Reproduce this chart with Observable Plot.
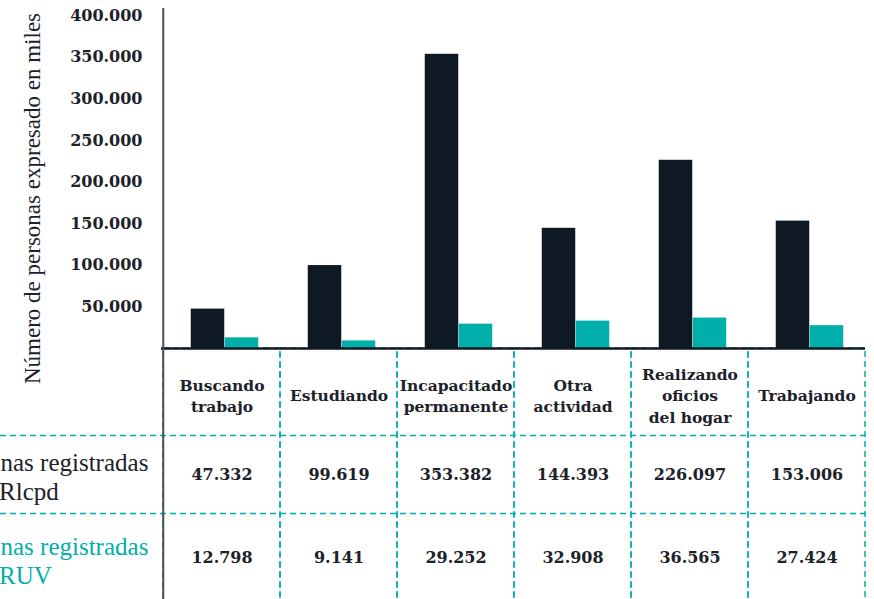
<!DOCTYPE html>
<html><head><meta charset="utf-8">
<script src="https://cdn.jsdelivr.net/npm/d3@7"></script>
<script src="https://cdn.jsdelivr.net/npm/@observablehq/plot@0.6"></script>
<style>
html,body{margin:0;padding:0;background:#fff;overflow:hidden;}
#chart svg{display:block;overflow:visible;}
g[aria-label="book"] text{font-family:"Liberation Serif","Times New Roman",serif;}
</style></head>
<body><div id="chart"></div>
<script>
const categories = ["Buscando trabajo","Estudiando","Incapacitado permanente","Otra actividad","Realizando oficios del hogar","Trabajando"];
const categoryLabels = ["Buscando\ntrabajo","Estudiando","Incapacitado\npermanente","Otra\nactividad","Realizando\noficios\ndel hogar","Trabajando"];
const rlcpd = [47332, 99619, 353382, 144393, 226097, 153006];
const ruv = [12798, 9141, 29252, 32908, 36565, 27424];
const seriesNames = ["Personas registradas\nen el Rlcpd", "Personas registradas\nen el RUV"];
const yTicks = [50000, 100000, 150000, 200000, 250000, 300000, 350000, 400000];
const yLabel = "Número de personas expresado en miles";

const DARK = "#0f1923", TEAL = "#00afaa", TEXT = "#1c2229";
const W = 874, H = 599, ML = 161, MR = 8, MT = 15, MB = 251;
const bw = (W - ML - MR) / categories.length;
const fmt = d3.formatLocale({decimal: ",", thousands: ".", grouping: [3], currency: ["", ""]}).format(",d");
const slab = "DejaVu Serif";
const book = "Liberation Serif";

const rowsA = categories.map((c, i) => ({cat: c, value: rlcpd[i]}));
const rowsB = categories.map((c, i) => ({cat: c, value: ruv[i]}));

// the source crops the row labels at the page's left edge just after "Perso"
const ctx = document.createElement("canvas").getContext("2d");
ctx.font = "25px 'Liberation Serif'";
const rowDx = -ctx.measureText("Perso").width - ML;

const dash = "6,4";
const chart = Plot.plot({
  width: W, height: H,
  marginLeft: ML, marginRight: MR, marginTop: MT, marginBottom: MB,
  style: {fontFamily: slab, color: TEXT, background: "#fff"},
  x: {type: "band", domain: categories, padding: 0, axis: null},
  y: {domain: [0, 400000], axis: null},
  marks: [
    Plot.cell(categories, {x: d => d, fill: "none", stroke: TEAL, strokeWidth: 1.5, strokeDasharray: dash, insetTop: H - MB - MT, insetBottom: -MB - 2}),
    Plot.ruleY([0], {dy: 87, insetLeft: -ML, stroke: TEAL, strokeWidth: 1.5, strokeDasharray: dash}),
    Plot.ruleY([0], {dy: 165, insetLeft: -ML, stroke: TEAL, strokeWidth: 1.5, strokeDasharray: dash}),
    Plot.barY(rowsA, {x: "cat", y: "value", fill: DARK, insetLeft: bw / 2 + 3 - 34, insetRight: bw / 2 - 3}),
    Plot.barY(rowsB, {x: "cat", y: "value", fill: TEAL, insetLeft: bw / 2 + 3, insetRight: bw / 2 - 3 - 34}),
    Plot.ruleY([0], {stroke: DARK, strokeWidth: 2.5, insetRight: 1}),
    Plot.ruleX([categories[0]], {dx: -bw / 2, insetTop: -7, insetBottom: -MB, stroke: "#4a4f55", strokeWidth: 2}),
    Plot.axisY({ticks: yTicks, tickSize: 0, tickPadding: 19, tickFormat: fmt, label: null, fontSize: 16, fontWeight: "bold", fontFamily: slab, fill: TEXT}),
    Plot.text(categories, {x: d => d, text: (d, i) => categoryLabels[i], frameAnchor: "bottom", dy: 46, lineAnchor: "middle", lineHeight: 1.4, fontSize: 15.5, fontWeight: "bold", fontFamily: slab, fill: TEXT}),
    Plot.text(rowsA, {x: "cat", text: d => fmt(d.value), frameAnchor: "bottom", dy: 126, lineAnchor: "middle", fontSize: 16, fontWeight: "bold", fontFamily: slab, fill: TEXT}),
    Plot.text(rowsB, {x: "cat", text: d => fmt(d.value), frameAnchor: "bottom", dy: 209, lineAnchor: "middle", fontSize: 16, fontWeight: "bold", fontFamily: slab, fill: TEXT}),
    Plot.text([seriesNames[0]], {ariaLabel: "book", frameAnchor: "bottom-left", text: d => d, textAnchor: "start", lineAnchor: "middle", lineHeight: 1.15, dx: rowDx, dy: 128, fontSize: 25, fontFamily: book, fill: TEXT}),
    Plot.text([seriesNames[1]], {ariaLabel: "book", frameAnchor: "bottom-left", text: d => d, textAnchor: "start", lineAnchor: "middle", lineHeight: 1.15, dx: rowDx, dy: 212, fontSize: 25, fontFamily: book, fill: TEAL}),
    Plot.text([yLabel], {ariaLabel: "book", frameAnchor: "left", text: d => d, textAnchor: "middle", rotate: -90, dx: 32 - ML, dy: 16.5, lineAnchor: "middle", fontSize: 23, fontFamily: book, fill: TEXT})
  ]
});
document.getElementById("chart").appendChild(chart);
</script></body></html>
